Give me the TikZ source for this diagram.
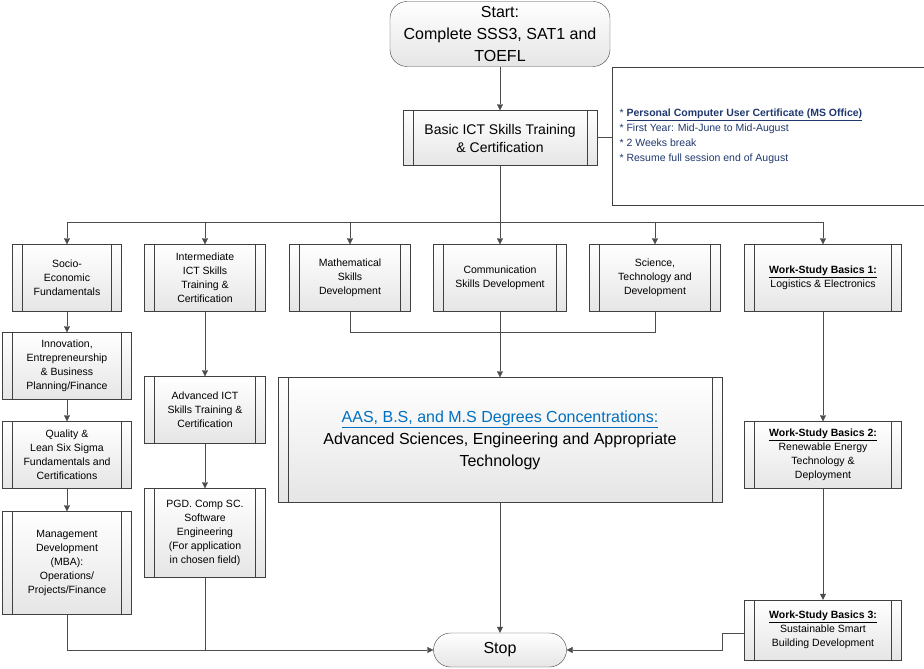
\documentclass[tikz,border=0pt]{standalone}
\usepackage{fontspec}
\setmainfont{Liberation Sans}
\usetikzlibrary{arrows.meta,positioning}
\definecolor{notetext}{RGB}{31,56,110}
\definecolor{linkblue}{RGB}{0,112,192}
\tikzset{
    proc/.style={draw=black!75, top color=white, bottom color=black!10, align=center,
        font=\fontsize{10.5}{14}\selectfont, inner sep=2pt,
        path picture={\draw[black!75] ([xshift=10pt]path picture bounding box.north west) -- ([xshift=10pt]path picture bounding box.south west);
                      \draw[black!75] ([xshift=-10pt]path picture bounding box.north east) -- ([xshift=-10pt]path picture bounding box.south east);}},
    term/.style={draw=black!75, rounded corners=17pt, top color=white, bottom color=black!10, align=center},
    arrow/.style={-{Triangle[length=6pt,width=6pt]}, draw=black!70},
    line/.style={draw=black!70}
}
\begin{document}
\begin{tikzpicture}[x=1pt,y=-1pt]
        \useasboundingbox (0,0) rectangle (924,669);

        \node[term, minimum width=220pt, minimum height=65pt, font=\fontsize{16}{22}\selectfont] (start) at (500,34) {Start:\\Complete SSS3, SAT1 and\\TOEFL};

        \node[proc, minimum width=194pt, minimum height=55pt, font=\fontsize{14}{18}\selectfont] (basic) at (500,138) {Basic ICT Skills Training\\\& Certification};

        % note bracket
        \coordinate (note) at (612,137);
        \draw[black!75] (924,67) -- (612,67) -- (612,205) -- (924,205);
        \node[anchor=west, align=left, text=notetext, font=\fontsize{10.5}{15}\selectfont] (notetxt) at (616,136) {* \textbf{\underline{Personal Computer User Certificate (MS Office)}}\\* First Year: Mid-June to Mid-August\\* 2 Weeks break\\* Resume full session end of August};

        % first row
        \node[proc, minimum width=109pt, minimum height=67pt] (socio) at (67,278) {Socio-\\Economic\\Fundamentals};
        \node[proc, minimum width=121pt, minimum height=67pt] (inter) at (205,278) {Intermediate\\ICT Skills\\Training \&\\Certification};
        \node[proc, minimum width=121pt, minimum height=67pt] (math) at (350,278) {Mathematical\\Skills\\Development};
        \node[proc, minimum width=133pt, minimum height=67pt] (comm) at (500,278) {Communication\\Skills Development};
        \node[proc, minimum width=131pt, minimum height=67pt] (sci) at (655,278) {Science,\\Technology and\\Development};
        \node[proc, minimum width=157pt, minimum height=67pt] (ws1) at (823,278) {\textbf{\underline{Work-Study Basics 1:}}\\Logistics \& Electronics};

        % left column
        \node[proc, minimum width=129pt, minimum height=67pt] (innov) at (67,366) {Innovation,\\Entrepreneurship\\\& Business\\Planning/Finance};
        \node[proc, minimum width=129pt, minimum height=67pt] (qual) at (67,455) {Quality \&\\Lean Six Sigma\\Fundamentals and\\Certifications};
        \node[proc, minimum width=129pt, minimum height=103pt] (mgmt) at (67,563) {Management\\Development\\(MBA):\\Operations/\\Projects/Finance};

        \node[proc, minimum width=121pt, minimum height=67pt] (adv) at (205,410) {Advanced ICT\\Skills Training \&\\Certification};
        \node[proc, minimum width=121pt, minimum height=89pt] (pgd) at (205,533) {PGD. Comp SC.\\Software\\Engineering\\(For application\\in chosen field)};

        \node[proc, minimum width=444pt, minimum height=125pt, font=\fontsize{16}{22}\selectfont] (aas) at (500,440) {\textcolor{linkblue}{\underline{AAS, B.S, and M.S Degrees Concentrations:}}\\Advanced Sciences, Engineering and Appropriate\\Technology};

        \node[proc, minimum width=157pt, minimum height=67pt] (ws2) at (823,455) {\textbf{\underline{Work-Study Basics 2:}}\\Renewable Energy\\Technology \&\\Deployment};
        \node[proc, minimum width=157pt, minimum height=60pt] (ws3) at (823,630) {\textbf{\underline{Work-Study Basics 3:}}\\Sustainable Smart\\Building Development};

        \node[term, minimum width=133pt, minimum height=34pt, font=\fontsize{16}{20}\selectfont] (stop) at (500,650) {Stop};

        \coordinate (bus) at (500,222);
        \coordinate (join) at (500,332);

        % main flow
        \draw[arrow] (start) -- (basic);
        \draw[line] (basic.east |- note) -- (note);
        \draw[line] (basic) -- (bus);
        \draw[line] (socio |- bus) -- (ws1 |- bus);
        \foreach \n in {socio,inter,math,comm,sci,ws1}
            \draw[arrow] (\n |- bus) -- (\n.north);
        \draw[line] (math.south) -- (math |- join) -- (sci |- join) -- (sci.south);
        \draw[line] (comm.south) -- (join);
        \draw[arrow] (join) -- (aas.north);

        \draw[arrow] (socio) -- (innov);
        \draw[arrow] (innov) -- (qual);
        \draw[arrow] (qual) -- (mgmt);
        \draw[arrow] (inter) -- (adv);
        \draw[arrow] (adv) -- (pgd);
        \draw[arrow] (ws1) -- (ws2);
        \draw[arrow] (ws2) -- (ws3);

        % into stop
        \draw[arrow] (aas) -- (stop);
        \draw[arrow] (mgmt.south) -- (mgmt |- stop) -- (stop.west);
        \draw[line] (pgd.south) -- (pgd |- stop);
        \draw[arrow] (ws3.west |- 0,633) -- (722,633) -- (722,650) -- (stop.east);
    \end{tikzpicture}
\end{document}
